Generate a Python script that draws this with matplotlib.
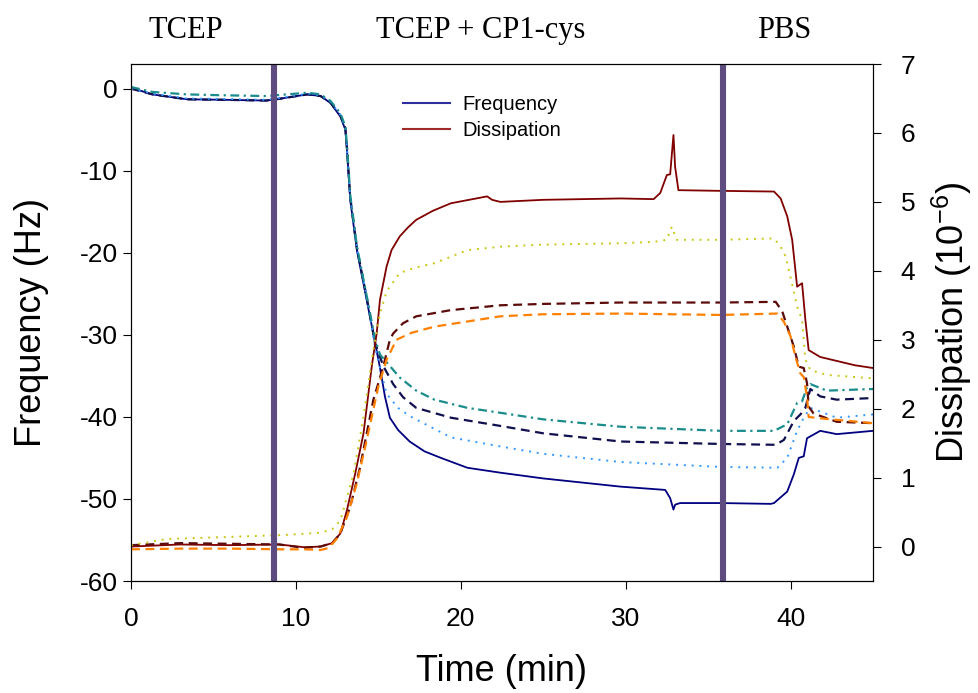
import numpy as np
import matplotlib
matplotlib.use("Agg")
import matplotlib.pyplot as plt
from matplotlib.lines import Line2D
from matplotlib.transforms import blended_transform_factory

plt.rcParams["font.family"] = ["Liberation Sans", "DejaVu Sans"]
plt.rcParams["axes.unicode_minus"] = False
plt.rcParams["mathtext.fontset"] = "custom"
plt.rcParams["mathtext.rm"] = "Liberation Sans"
plt.rcParams["mathtext.it"] = "Liberation Sans:italic"

# ---- frequency traces (Hz) ----
t_f1 = [0, 1.3, 3.4, 5.4, 8.2, 8.8, 10.7, 11.5, 12.1, 12.7, 13.0, 13.1, 13.3, 13.7, 14.3, 15.1,
        15.4, 15.7, 16.2, 16.9, 17.8, 18.8, 20.4, 22.4, 25, 29.7, 32.4, 32.7, 32.9, 33.0, 33.3,
        35.8, 38.8, 39.0, 39.8, 40.2, 40.5, 40.8, 41.0, 41.8, 42.8, 45]
f1 = [0.1, -0.7, -1.3, -1.35, -1.45, -1.3, -0.7, -0.9, -1.75, -3.4, -5.0, -7.5, -13.6, -19.7,
      -25.8, -34, -37.5, -40.1, -41.6, -43, -44.2, -45, -46.2, -46.8, -47.5, -48.5, -48.9,
      -49.9, -51.3, -50.7, -50.5, -50.5, -50.6, -50.5, -49.1, -47, -45, -44.8, -42.6, -41.7,
      -42.1, -41.7]

t_f2 = [0, 1.3, 3.4, 5.4, 8.2, 8.8, 10.7, 11.5, 12.1, 12.7, 13.0, 13.1, 13.3, 13.7, 14.3, 14.8,
        15.3, 15.9, 16.5, 17.3, 19.4, 22.4, 25, 29.7, 35.8, 39.1, 39.6, 40.2, 40.6, 40.9, 41.2,
        41.8, 42.8, 45]
f2 = [0.0, -0.7, -1.3, -1.35, -1.45, -1.3, -0.7, -0.9, -1.7, -3.3, -4.8, -7.3, -13.3, -19.4,
      -25.5, -31, -33.8, -36, -37.6, -38.9, -40.1, -41.1, -42.0, -43, -43.3, -43.4, -42.8,
      -40.5, -39.7, -38.9, -36.6, -37.5, -37.9, -37.7]

t_f3 = [0, 1.3, 3.4, 5.4, 8.2, 8.8, 10.7, 11.5, 12.1, 12.7, 13.0, 13.1, 13.3, 13.7, 14.3, 14.8,
        15.5, 16.2, 16.9, 19.4, 22.4, 25, 29.7, 35.8, 39.2, 39.8, 40.4, 40.8, 41.2, 42.8, 45]
f3 = [0.0, -0.6, -1.2, -1.25, -1.35, -1.2, -0.6, -0.8, -1.6, -3.2, -4.7, -7.2, -13.2, -19.3,
      -25.4, -31.5, -37.2, -38.9, -39.9, -42.5, -43.6, -44.5, -45.5, -46.1, -46.2, -45, -41.7,
      -40.1, -38.9, -40.1, -39.7]

t_f4 = [0, 1.3, 3.4, 5.4, 8.2, 8.8, 10.7, 11.5, 12.1, 12.7, 13.0, 13.1, 13.3, 13.7, 14.3, 14.8,
        15.1, 16.3, 17.3, 18.4, 20.4, 22.4, 25, 29.7, 35.8, 39.0, 39.8, 40.4, 40.7, 41.0, 41.2,
        42.2, 45]
f4 = [0.2, -0.4, -0.7, -0.8, -0.9, -0.8, -0.5, -0.7, -1.5, -3.0, -4.6, -7.0, -13.0, -19.2,
      -25.3, -30.5, -32.4, -35.2, -36.8, -37.9, -38.9, -39.5, -40.3, -41.2, -41.7, -41.7,
      -40.9, -38.3, -38.1, -36.4, -36.0, -36.8, -36.6]

# ---- dissipation traces (1e-6) ----
t_d1 = [0, 3, 6, 9, 10.5, 11.5, 12.2, 12.7, 13.1, 13.6, 14.1, 14.6, 14.9, 15.1, 15.5, 15.8, 16.3,
        16.8, 17.3, 18.3, 19.4, 21.6, 21.9, 22.4, 25, 29.7, 31.7, 32.1, 32.5, 32.7, 32.9, 33.0,
        33.2, 35.8, 39.0, 39.4, 39.8, 40.1, 40.4, 40.7, 40.9, 41.1, 41.8, 43.9, 45]
d1 = [0.0, 0.03, 0.02, 0.03, -0.01, 0.0, 0.05, 0.19, 0.53, 1.06, 1.64, 2.61, 3.09, 3.58, 4.06,
      4.3, 4.5, 4.63, 4.74, 4.87, 4.98, 5.08, 5.03, 5.0, 5.03, 5.05, 5.04, 5.13, 5.39, 5.4,
      5.97, 5.51, 5.17, 5.16, 5.15, 5.05, 4.79, 4.45, 3.77, 3.82, 3.29, 2.85, 2.75, 2.63, 2.59]

t_d2 = [0, 3, 6, 9, 10.5, 11.5, 12.2, 12.7, 13.3, 13.9, 14.7, 15.3, 15.7, 15.9, 16.5, 17.3, 19.4,
        22.4, 25, 29.7, 35.8, 39.1, 39.5, 39.8, 40.2, 40.5, 40.8, 41.0, 41.1, 41.4, 42.8, 45]
d2 = [0.02, 0.05, 0.04, 0.03, -0.02, 0.0, 0.05, 0.19, 0.58, 1.16, 2.13, 2.61, 3.0, 3.09, 3.24,
      3.34, 3.43, 3.5, 3.52, 3.54, 3.54, 3.55, 3.41, 3.19, 2.9, 2.61, 2.59, 2.37, 2.03, 1.93,
      1.81, 1.79]

t_d3 = [0, 2.2, 6.0, 9.45, 11.5, 12.2, 12.7, 13.5, 14.1, 14.7, 15.1, 15.5, 16.3, 17.3, 18.4, 20.4,
        22.4, 25, 29.7, 31.7, 32.5, 32.8, 33.1, 35.8, 39.0, 39.4, 39.7, 39.9, 40.1, 40.4, 40.7,
        40.9, 41.2, 42.2, 45]
d3 = [0.02, 0.11, 0.14, 0.17, 0.2, 0.25, 0.38, 1.06, 1.88, 2.85, 3.38, 3.7, 3.97, 4.05, 4.11,
      4.3, 4.35, 4.38, 4.4, 4.42, 4.45, 4.64, 4.45, 4.45, 4.47, 4.35, 4.21, 4.01, 3.8, 3.48,
      3.29, 2.71, 2.56, 2.49, 2.44]

t_d4 = [0, 3, 6, 9, 10.5, 11.5, 12.0, 12.5, 13.1, 13.7, 14.3, 15.0, 15.5, 16.1, 17.0, 18.4, 22.4,
        25, 29.7, 35.8, 39.2, 39.6, 40.0, 40.3, 40.6, 40.8, 41.0, 41.1, 41.8, 45]
d4 = [-0.04, -0.03, -0.03, -0.04, -0.04, -0.05, -0.02, 0.12, 0.43, 0.92, 1.55, 2.32, 2.71, 3.0,
      3.1, 3.19, 3.34, 3.37, 3.38, 3.36, 3.38, 3.26, 3.05, 2.75, 2.51, 2.46, 2.17, 1.88, 1.86,
      1.79]

injections = [8.7, 35.9]
phases = [("TCEP", 3.3), ("TCEP + CP1-cys", 21.2), ("PBS", 39.6)]

fig = plt.figure(figsize=(9.79, 6.93), dpi=100)
ax = fig.add_axes([0.1338, 0.1616, 0.7579, 0.746])
ax2 = ax.twinx()

ax.plot(t_f1, f1, color="#000080", lw=1.3)
ax.plot(t_f2, f2, color="#10104f", lw=1.6, ls=(0, (4, 2.5)))
ax.plot(t_f3, f3, color="#3399ff", lw=1.4, ls=(0, (1, 3)))
ax.plot(t_f4, f4, color="#1a8c8c", lw=1.6, ls=(0, (4, 2, 1, 2)))

ax2.plot(t_d1, d1, color="#800000", lw=1.3)
ax2.plot(t_d2, d2, color="#5c0a0a", lw=1.6, ls=(0, (4, 2.5)))
ax2.plot(t_d3, d3, color="#c8c818", lw=1.4, ls=(0, (1, 3)))
ax2.plot(t_d4, d4, color="#ff8000", lw=1.6, ls=(0, (4, 2.5)))

for x in injections:
    ax2.axvline(x, color="#5e4b7f", lw=4.4)

ax.set_xlim(0, 45)
ax.set_ylim(-60, 3)
ax2.set_ylim(-0.5, 7)
ax.set_xticks([0, 10, 20, 30, 40])
ax.set_yticks([0, -10, -20, -30, -40, -50, -60])
ax2.set_yticks(range(0, 8))

for a in (ax, ax2):
    a.tick_params(labelsize=19, length=6, width=0.8, direction="out")
    for sp in a.spines.values():
        sp.set_linewidth(0.8)
ax.tick_params(axis="x", pad=13)
ax2.tick_params(axis="y", pad=14)

ax.set_xlabel("Time (min)", fontsize=26, labelpad=16)
ax.set_ylabel("Frequency (Hz)", fontsize=26, labelpad=22)
ax2.set_ylabel("Dissipation (10$^{-6}$)", fontsize=26, labelpad=10)

tr = blended_transform_factory(ax.transData, ax.transAxes)
for label, xpos in phases:
    ax.text(xpos, 1.065, label, transform=tr, ha="center", va="center",
            fontsize=22, family="Liberation Serif")

handles = [Line2D([], [], color="#2e2e9e", lw=1.5), Line2D([], [], color="#9e2a2a", lw=1.5)]
ax2.legend(handles, ["Frequency", "Dissipation"], loc="upper left", bbox_to_anchor=(0.367, 0.94),
           frameon=False, fontsize=14.5, handlelength=2.3, borderpad=0, borderaxespad=0,
           labelspacing=0.35, handletextpad=0.65)

plt.savefig("out.png", dpi=100)
